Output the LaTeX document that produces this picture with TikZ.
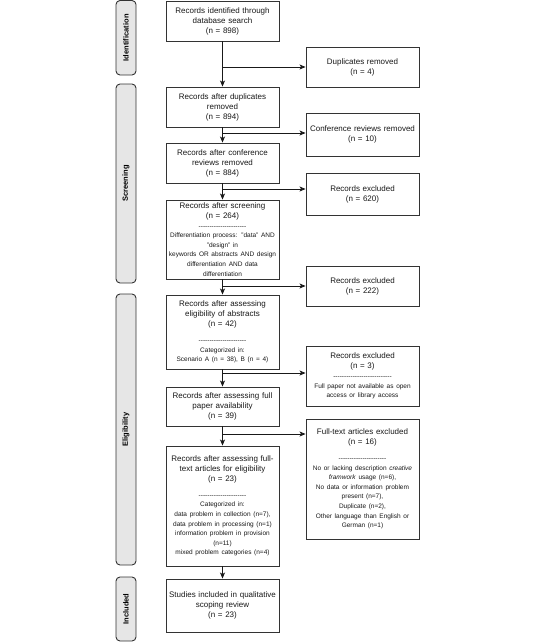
\documentclass[tikz,border=0pt]{standalone}
\usepackage{fontspec}
\setmainfont{Liberation Sans}
\usetikzlibrary{arrows.meta}
\definecolor{edge}{HTML}{333333}
\definecolor{barfill}{HTML}{E6E6E6}
\newcommand\smtxt{\fontsize{6.5}{9.6}\selectfont}
\newcommand\hyphenrule[1]{\foreach\k in {1,...,#1}{-\kern0pt}}
\tikzset{
  box/.style={draw=edge, line width=0.9pt, fill=white, text width=112pt, inner xsep=0.5pt, inner ysep=1pt,
    align=center, minimum width=113pt, font=\fontsize{8}{10}\selectfont, text=black!90},
  bar/.style={draw=edge, line width=0.9pt, fill=barfill, rounded corners=4pt, rotate=90,
    minimum height=20pt, inner sep=0pt, font=\bfseries\fontsize{7.5}{9}\selectfont},
  arr/.style={draw=black!90, line width=0.8pt, -{Stealth[length=6pt,width=5pt,inset=1.5pt]}},
  ln/.style={draw=black!90, line width=0.8pt}
}
\begin{document}
\begin{tikzpicture}[x=1pt,y=-1pt]
\useasboundingbox (0,0) rectangle (536,643);

% phase bars
\node[bar, minimum width=74.5pt] (pid) at (126,37.75) {Identification};
\node[bar, minimum width=199pt] (psc) at (126,183.5) {Screening};
\node[bar, minimum width=271pt] (pel) at (126,429.5) {Eligibility};
\node[bar, minimum width=64pt] (pin) at (126,609) {Included};

% main column
\node[box, minimum height=40pt] (b1) at (222.5,21) {Records identified through\\database search\\(n = 898)};
\node[box, minimum height=40pt] (b2) at (222.5,107) {Records after duplicates\\removed\\(n = 894)};
\node[box, minimum height=40pt] (b3) at (222.5,163) {Records after conference\\reviews removed\\(n = 884)};
\node[box, minimum height=79pt] (b4) at (222.5,239.5) {Records after screening\\(n = 264)\par
  \smtxt \hyphenrule{22}\\Differentiation process: "data" AND\\"design" in\\keywords OR abstracts AND design\\differentiation AND data\\differentiation\par};
\node[box, minimum height=74pt] (b5) at (222.5,332) {Records after assessing\\eligibility of abstracts\\(n = 42)\\[6pt]
  \smtxt \hyphenrule{22}\\Categorized in:\\Scenario A (n = 38), B (n = 4)\par};
\node[box, minimum height=39pt] (b6) at (222.5,406.5) {Records after assessing full\\paper availability\\(n = 39)};
\node[box, minimum height=120pt] (b7) at (222.5,506) {Records after assessing full-\\text articles for eligibility\\(n = 23)\\[6pt]
  \smtxt \hyphenrule{22}\\Categorized in:\\data problem in collection (n=7),\\data problem in processing (n=1)\\information problem in provision\\(n=11)\\mixed problem categories (n=4)\par};
\node[box, minimum height=53pt] (b8) at (222.5,605.5) {Studies included in qualitative\\scoping review\\(n = 23)};

% right column
\node[box, minimum height=40pt] (r1) at (362.5,67) {Duplicates removed\\(n = 4)};
\node[box, minimum height=43pt] (r2) at (362.5,134.5) {Conference reviews removed\\(n = 10)};
\node[box, minimum height=42pt] (r3) at (362.5,194) {Records excluded\\(n = 620)};
\node[box, minimum height=40pt] (r4) at (362.5,286) {Records excluded\\(n = 222)};
\node[box, minimum height=60pt] (r5) at (362.5,376) {Records excluded\\(n = 3)\par
  \smtxt \hyphenrule{27}\\Full paper not available as open\\access or library access\par};
\node[box, minimum height=120pt] (r6) at (362.5,479) {Full-text articles excluded\\(n = 16)\\[6pt]
  \smtxt \hyphenrule{22}\\No or lacking description \textit{creative}\\\textit{framwork} usage (n=6),\\No data or information problem\\present (n=7),\\Duplicate (n=2),\\Other language than English or\\German (n=1)\par};

% branch points
\coordinate (j1) at (222.5,67);
\coordinate (j2) at (222.5,133);
\coordinate (j3) at (222.5,189);
\coordinate (j4) at (222.5,286);
\coordinate (j5) at (222.5,373);
\coordinate (j6) at (222.5,434);

% main flow
\draw[arr] (b1) -- (b2);
\draw[arr] (b2) -- (b3);
\draw[arr] (b3) -- (b4);
\draw[arr] (b4) -- (b5);
\draw[arr] (b5) -- (b6);
\draw[arr] (b6) -- (b7);
\draw[arr] (b7) -- (b8);

% exclusions
\draw[arr] (j1) -- (j1 -| r1.west);
\draw[arr] (j2) -- (j2 -| r2.west);
\draw[arr] (j3) -- (j3 -| r3.west);
\draw[arr] (j4) -- (j4 -| r4.west);
\draw[arr] (j5) -- (j5 -| r5.west);
\draw[arr] (j6) -- (j6 -| r6.west);
\end{tikzpicture}
\end{document}
